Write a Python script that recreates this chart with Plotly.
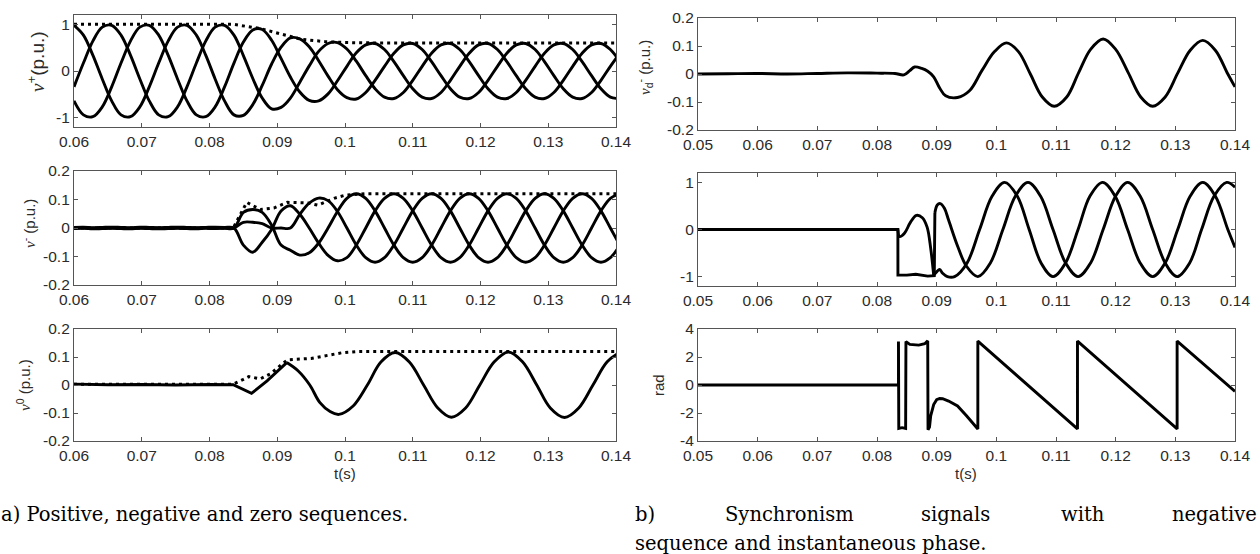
import plotly.graph_objects as go

W, H = 1260, 554

# ---------------- data ----------------
# common time grid for the positive / negative sequence curves (s)
t_seq = [0.06, 0.06139, 0.06278, 0.06417, 0.06556, 0.06694, 0.06833, 0.06972, 0.07111, 0.0725,
         0.07389, 0.07528, 0.07667, 0.07806, 0.07944, 0.08083, 0.08222, 0.08361, 0.085, 0.08639,
         0.08778, 0.08917, 0.09056, 0.09194, 0.09333, 0.09472, 0.09611, 0.0975, 0.09889, 0.10028,
         0.10167, 0.10306, 0.10444, 0.10583, 0.10722, 0.10861, 0.11, 0.11139, 0.11278, 0.11417,
         0.11556, 0.11694, 0.11833, 0.11972, 0.12111, 0.1225, 0.12389, 0.12528, 0.12667, 0.12806,
         0.12944, 0.13083, 0.13222, 0.13361, 0.135, 0.13639, 0.13778, 0.13917, 0.14056]

# positive sequence (p.u.)
vp_a = [0.98, 0.77, 0.34, -0.17, -0.64, -0.94, -0.98, -0.77, -0.34, 0.17, 0.64, 0.94,
        0.98, 0.77, 0.34, -0.17, -0.64, -0.94, -0.95, -0.72, -0.31, 0.15, 0.51, 0.71,
        0.69, 0.52, 0.22, -0.11, -0.40, -0.57, -0.60, -0.46, -0.20, 0.10, 0.38, 0.56,
        0.59, 0.46, 0.20, -0.10, -0.38, -0.56, -0.59, -0.46, -0.20, 0.10, 0.38, 0.56,
        0.59, 0.46, 0.20, -0.10, -0.38, -0.56, -0.59, -0.46, -0.20, 0.10, 0.38]
vp_b = [-0.34, 0.17, 0.64, 0.94, 0.98, 0.77, 0.34, -0.17, -0.64, -0.94, -0.98, -0.77,
        -0.34, 0.17, 0.64, 0.94, 0.98, 0.77, 0.33, -0.16, -0.58, -0.81, -0.78, -0.58,
        -0.24, 0.11, 0.42, 0.59, 0.61, 0.47, 0.21, -0.10, -0.38, -0.56, -0.59, -0.46,
        -0.20, 0.10, 0.38, 0.56, 0.59, 0.46, 0.20, -0.10, -0.38, -0.56, -0.59, -0.46,
        -0.20, 0.10, 0.38, 0.56, 0.59, 0.46, 0.20, -0.10, -0.38, -0.56, -0.59]
vp_c = [-0.64, -0.94, -0.98, -0.77, -0.34, 0.17, 0.64, 0.94, 0.98, 0.77, 0.34, -0.17,
        -0.64, -0.94, -0.98, -0.77, -0.34, 0.17, 0.62, 0.88, 0.89, 0.66, 0.27, -0.13,
        -0.45, -0.63, -0.64, -0.49, -0.21, 0.10, 0.39, 0.56, 0.59, 0.46, 0.20, -0.10,
        -0.38, -0.56, -0.59, -0.46, -0.20, 0.10, 0.38, 0.56, 0.59, 0.46, 0.20, -0.10,
        -0.38, -0.56, -0.59, -0.46, -0.20, 0.10, 0.38, 0.56, 0.59, 0.46, 0.20]
vp_env_t = [0.06, 0.0835, 0.0875, 0.09, 0.0935, 0.097, 0.1, 0.105, 0.14]
vp_env = [1.0, 1.0, 0.91, 0.81, 0.68, 0.63, 0.61, 0.6, 0.6]

# negative sequence (p.u.)
vn_a = [0.002, 0.003, 0.001, 0.002, 0.003, 0.002, 0.001, 0.003, 0.002, 0.001, 0.002, 0.003,
        0.002, 0.001, 0.002, 0.003, 0.002, 0.0, -0.06, -0.085, -0.05, -0.005, 0.06, 0.078,
        0.048, 0.0, -0.053, -0.096, -0.115, -0.104, -0.06, 0.0, 0.06, 0.104, 0.12, 0.104,
        0.06, 0.0, -0.06, -0.104, -0.12, -0.104, -0.06, 0.0, 0.06, 0.104, 0.12, 0.104,
        0.06, 0.0, -0.06, -0.104, -0.12, -0.104, -0.06, 0.0, 0.06, 0.104, 0.12]
vn_b = [-0.002, -0.001, -0.003, -0.002, -0.001, -0.002, -0.003, -0.001, -0.002, -0.003, -0.002, -0.001,
        -0.002, -0.003, -0.001, -0.002, -0.001, 0.0, 0.055, 0.065, 0.055, 0.01, -0.06, -0.078,
        -0.095, -0.087, -0.053, 0.0, 0.058, 0.104, 0.12, 0.104, 0.06, 0.0, -0.06, -0.104,
        -0.12, -0.104, -0.06, 0.0, 0.06, 0.104, 0.12, 0.104, 0.06, 0.0, -0.06, -0.104,
        -0.12, -0.104, -0.06, 0.0, 0.06, 0.104, 0.12, 0.104, 0.06, 0.0, -0.06]
vn_c = [0.0, 0.001, -0.001, 0.0, 0.001, 0.0, -0.001, 0.0, 0.001, 0.0, -0.001, 0.001,
        0.0, 0.0, 0.001, -0.001, 0.0, 0.0, 0.02, 0.02, 0.015, 0.0, 0.0, 0.0,
        0.048, 0.087, 0.105, 0.096, 0.058, 0.0, -0.06, -0.104, -0.12, -0.104, -0.06, 0.0,
        0.06, 0.104, 0.12, 0.104, 0.06, 0.0, -0.06, -0.104, -0.12, -0.104, -0.06, 0.0,
        0.06, 0.104, 0.12, 0.104, 0.06, 0.0, -0.06, -0.104, -0.12, -0.104, -0.06]
vn_env_t = [0.06, 0.0835, 0.0855, 0.0875, 0.0895, 0.0915, 0.0945, 0.096, 0.0985, 0.1, 0.103, 0.14]
vn_env = [0.0, 0.0, 0.09, 0.065, 0.07, 0.09, 0.088, 0.08, 0.105, 0.115, 0.12, 0.12]

# zero sequence (p.u.)
v0_fault_t = [0.06, 0.065, 0.07, 0.075, 0.08, 0.0835, 0.0862, 0.0885, 0.0914]
v0_fault = [0.003, 0.001, 0.002, 0.0, 0.002, 0.001, -0.03, 0.015, 0.08]
v0_t = [0.0914, 0.0931, 0.0948, 0.0963, 0.0978, 0.0991, 0.1012, 0.1033, 0.1053, 0.1074,
        0.1095, 0.1116, 0.1137, 0.1157, 0.1178, 0.1199, 0.122, 0.1241, 0.1262, 0.1283,
        0.1303, 0.1324, 0.1345, 0.1366, 0.1387, 0.1407]
v0 = [0.08, 0.05, 0.0, -0.063, -0.095, -0.105, -0.075, 0.0, 0.082, 0.116,
      0.082, 0.0, -0.082, -0.115, -0.082, 0.0, 0.082, 0.118, 0.083, 0.0,
      -0.082, -0.116, -0.082, 0.0, 0.083, 0.118]
v0_env_t = [0.06, 0.0835, 0.085, 0.0858, 0.0875, 0.089, 0.0915, 0.095, 0.0995, 0.102, 0.14]
v0_env = [0.003, 0.003, 0.02, 0.03, 0.022, 0.04, 0.09, 0.095, 0.115, 0.12, 0.12]

# synchronism signal, negative sequence (p.u.)
vd_t = [0.05, 0.055, 0.06, 0.065, 0.07, 0.075, 0.08, 0.083, 0.0845, 0.0855, 0.0863, 0.0875,
        0.0885, 0.0895, 0.0905, 0.0915, 0.0935, 0.0955, 0.0976, 0.0997, 0.1017, 0.1037, 0.1057,
        0.1077, 0.1097, 0.1118, 0.1138, 0.1158, 0.1179, 0.12, 0.1221, 0.1242, 0.1262, 0.1283,
        0.1304, 0.1325, 0.1346, 0.1367, 0.1388, 0.14]
vd = [0.0, 0.001, 0.002, 0.0, 0.002, 0.004, 0.003, 0.002, -0.003, 0.012, 0.025, 0.02,
      0.01, -0.01, -0.05, -0.078, -0.084, -0.06, 0.013, 0.08, 0.111, 0.08, 0.0,
      -0.082, -0.115, -0.082, 0.005, 0.088, 0.125, 0.088, 0.005, -0.082, -0.115, -0.082,
      0.003, 0.085, 0.12, 0.085, 0.0, -0.046]

# synchronism signals (normalised)
s1_jump_t = [0.05, 0.0835, 0.08351, 0.085, 0.0865, 0.0875, 0.0885, 0.0896, 0.0897]
s1_jump = [0.0, 0.0, -0.97, -0.97, -0.95, -0.97, -0.99, -0.98, 0.35]
s1_t = [0.0897, 0.0901, 0.0906, 0.0913, 0.092, 0.0935, 0.095, 0.0969, 0.099, 0.1011,
        0.1032, 0.1053, 0.1074, 0.1095, 0.1116, 0.1137, 0.1158, 0.1179, 0.12, 0.122,
        0.1241, 0.1262, 0.1283, 0.1303, 0.1324, 0.1344, 0.1365, 0.1386, 0.14]
s1 = [0.35, 0.52, 0.55, 0.45, 0.2, -0.35, -0.78, -1.0, -0.71, 0.0,
      0.71, 1.0, 0.71, 0.0, -0.71, -1.0, -0.71, 0.0, 0.71, 1.0,
      0.71, 0.0, -0.71, -1.0, -0.71, 0.0, 0.71, 1.0, 0.9]
s2_hump_t = [0.0835, 0.0838, 0.0846, 0.0856, 0.0866, 0.0876, 0.0884, 0.089, 0.0895]
s2_hump = [0.0, -0.15, -0.08, 0.15, 0.3, 0.25, 0.05, -0.4, -0.97]
s2_t = [0.0895, 0.09, 0.0905, 0.091, 0.0918, 0.093, 0.0951, 0.0972, 0.0993, 0.1014,
        0.1035, 0.1055, 0.1075, 0.1095, 0.1116, 0.1137, 0.1157, 0.1178, 0.1199, 0.122,
        0.1241, 0.1262, 0.1283, 0.1304, 0.1325, 0.1346, 0.1367, 0.1388, 0.14]
s2 = [-0.97, -0.9, -0.85, -0.93, -1.0, -1.0, -0.71, 0.0, 0.71, 1.0,
      0.71, 0.0, -0.71, -1.0, -0.71, 0.0, 0.71, 1.0, 0.71, 0.0,
      -0.71, -1.0, -0.71, 0.0, 0.71, 1.0, 0.71, 0.0, -0.38]

# instantaneous phase (rad)
ph_t = [0.05, 0.0836, 0.0836, 0.08365, 0.0842, 0.0848, 0.08485, 0.0855, 0.087, 0.088,
        0.0885, 0.08855, 0.0888, 0.089, 0.0895, 0.09, 0.0905, 0.091, 0.092, 0.0935,
        0.095, 0.0969, 0.0969, 0.1136, 0.1136, 0.1303, 0.1303, 0.14]
ph = [0.0, 0.0, 3.1, -3.1, -3.05, -3.1, 3.1, 2.9, 2.85, 2.95,
      3.15, -3.2, -3.0, -2.2, -1.4, -1.05, -0.96, -0.98, -1.15, -1.5,
      -2.2, -3.14, 3.14, -3.14, 3.14, -3.14, 3.14, -0.45]

# ticks
xt_left = [0.06, 0.07, 0.08, 0.09, 0.10, 0.11, 0.12, 0.13, 0.14]
xt_left_lbl = ["0.06", "0.07", "0.08", "0.09", "0.1", "0.11", "0.12", "0.13", "0.14"]
xt_right = [0.05, 0.06, 0.07, 0.08, 0.09, 0.10, 0.11, 0.12, 0.13, 0.14]
xt_right_lbl = ["0.05", "0.06", "0.07", "0.08", "0.09", "0.1", "0.11", "0.12", "0.13", "0.14"]
yt_unit = [-1, 0, 1]
yt_unit_lbl = ["-1", "0", "1"]
yt_small = [-0.2, -0.1, 0, 0.1, 0.2]
yt_small_lbl = ["-0.2", "-0.1", "0", "0.1", "0.2"]
yt_rad = [-4, -2, 0, 2, 4]
yt_rad_lbl = ["-4", "-2", "0", "2", "4"]

# ---------------- figure ----------------
fig = go.Figure()
LW = 2.9
DOT = "3px,4px"


def add(x, y, sub, shape="spline", dash=None, width=LW):
    fig.add_trace(go.Scatter(
        x=x, y=y, mode="lines",
        xaxis="x" if sub == 1 else f"x{sub}",
        yaxis="y" if sub == 1 else f"y{sub}",
        line=dict(color="#000000", width=width, shape=shape, dash=dash, smoothing=1.0),
        hoverinfo="skip", showlegend=False))


# a) positive
for s in (vp_a, vp_b, vp_c):
    add(t_seq, s, 1)
add(vp_env_t, vp_env, 1, shape="linear", dash=DOT, width=3)
# a) negative
for s in (vn_a, vn_b, vn_c):
    add(t_seq, s, 2)
add(vn_env_t, vn_env, 2, shape="linear", dash=DOT, width=3)
# a) zero
add(v0_fault_t, v0_fault, 3, shape="linear")
add(v0_t, v0, 3)
add(v0_env_t, v0_env, 3, shape="linear", dash=DOT, width=3)
# b) negative sequence synchronism signal
add(vd_t, vd, 4)
# b) synchronism signals
add(s1_jump_t, s1_jump, 5, shape="linear")
add(s1_t, s1, 5)
add(s2_hump_t, s2_hump, 5)
add(s2_t, s2, 5)
# b) phase
add(ph_t, ph, 6, shape="linear")

panels = {
    1: dict(px=(74, 616), py=(15, 127), xr=[0.06, 0.14], yr=[-1.2, 1.2],
            xt=(xt_left, xt_left_lbl), yt=(yt_unit, yt_unit_lbl)),
    2: dict(px=(74, 616), py=(171, 285), xr=[0.06, 0.14], yr=[-0.2, 0.2],
            xt=(xt_left, xt_left_lbl), yt=(yt_small, yt_small_lbl)),
    3: dict(px=(74, 616), py=(329, 441), xr=[0.06, 0.14], yr=[-0.2, 0.2],
            xt=(xt_left, xt_left_lbl), yt=(yt_small, yt_small_lbl)),
    4: dict(px=(698, 1235), py=(18, 130), xr=[0.05, 0.14], yr=[-0.2, 0.2],
            xt=(xt_right, xt_right_lbl), yt=(yt_small, yt_small_lbl)),
    5: dict(px=(698, 1235), py=(173, 286), xr=[0.05, 0.14], yr=[-1.2, 1.2],
            xt=(xt_right, xt_right_lbl), yt=(yt_unit, yt_unit_lbl)),
    6: dict(px=(698, 1235), py=(329, 441), xr=[0.05, 0.14], yr=[-4, 4],
            xt=(xt_right, xt_right_lbl), yt=(yt_rad, yt_rad_lbl)),
}

TICKFONT = dict(family="Liberation Sans, Arial, sans-serif", size=15.5, color="#2b2b2b")
common = dict(showline=True, linecolor="#555555", linewidth=1.2, mirror="allticks",
              ticks="inside", ticklen=4, tickwidth=1, tickcolor="#555555",
              showgrid=False, zeroline=False, tickfont=TICKFONT, fixedrange=True,
              automargin=False)

layout = dict(width=W, height=H, margin=dict(l=0, r=0, t=0, b=0, pad=0, autoexpand=False),
              paper_bgcolor="white", plot_bgcolor="white", showlegend=False)
for i, p in panels.items():
    xs = "" if i == 1 else str(i)
    layout[f"xaxis{xs}"] = dict(common, domain=[p["px"][0] / W, p["px"][1] / W], range=p["xr"],
                                anchor="y" + xs, tickmode="array",
                                tickvals=p["xt"][0], ticktext=p["xt"][1])
    layout[f"yaxis{xs}"] = dict(common, domain=[1 - p["py"][1] / H, 1 - p["py"][0] / H],
                                range=p["yr"], anchor="x" + xs, tickmode="array",
                                tickvals=p["yt"][0], ticktext=p["yt"][1])
fig.update_layout(**layout)

SANS = "Liberation Sans, Arial, sans-serif"
SERIF_V = '<span style="font-family:Liberation Serif, Times New Roman, serif"><i>v</i></span>'


def ann(text, x, y, size=15, angle=0, family=SANS, xanchor="center", color="#2b2b2b"):
    fig.add_annotation(text=text, x=x / W, y=1 - y / H, xref="paper", yref="paper",
                       showarrow=False, textangle=angle, xanchor=xanchor, yanchor="middle",
                       borderpad=0, font=dict(family=family, size=size, color=color))


# axis titles
ann(SERIF_V + "<sup>+</sup>(p.u.)", 36, 62, size=19, angle=-90)
ann(SERIF_V + "<sup>-</sup> (p.u.)", 29, 224, size=15, angle=-90)
ann(SERIF_V + "<sup>0</sup> (p.u.)", 23, 385, size=15, angle=-90)
ann(SERIF_V + "<sub>d</sub><sup>-</sup> (p.u.)", 645, 68, size=15, angle=-90)
ann("rad", 658, 385, size=15, angle=-90)
ann("t(s)", 345, 474, size=15)
ann("t(s)", 966, 474, size=15)

# captions
CAP = "DejaVu Serif, serif"
CS = 19.5
ann("a) Positive, negative and zero sequences.", 0, 514, size=CS, family=CAP, xanchor="left", color="#000")
ann("b)", 634, 514, size=CS, family=CAP, xanchor="left", color="#000")
ann("Synchronism", 724, 514, size=CS, family=CAP, xanchor="left", color="#000")
ann("signals", 920, 514, size=CS, family=CAP, xanchor="left", color="#000")
ann("with", 1060, 514, size=CS, family=CAP, xanchor="left", color="#000")
ann("negative", 1258, 514, size=CS, family=CAP, xanchor="right", color="#000")
ann("sequence and instantaneous phase.", 634, 543, size=CS, family=CAP, xanchor="left", color="#000")

fig.write_html("out.html")
